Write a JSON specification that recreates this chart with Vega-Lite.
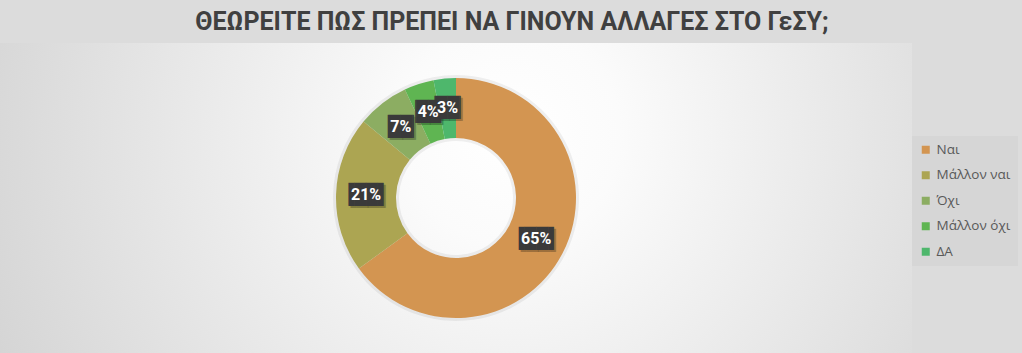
{
  "$schema": "https://vega.github.io/schema/vega-lite/v6.json",
  "width": 912,
  "height": 310,
  "autosize": {"type": "none"},
  "padding": {"top": 43, "left": 0, "right": 110, "bottom": 0},
  "background": "#dcdcdc",
  "config": {"view": {"stroke": null}},
  "title": {
    "text": "ΘΕΩΡΕΙΤΕ ΠΩΣ ΠΡΕΠΕΙ ΝΑ ΓΙΝΟΥΝ ΑΛΛΑΓΕΣ ΣΤΟ ΓεΣΥ;",
    "font": "Roboto",
    "fontSize": 25,
    "fontWeight": "bold",
    "color": "#404040",
    "anchor": "middle",
    "frame": "group",
    "dx": 56,
    "baseline": "alphabetic",
    "offset": -12
  },
  "data": {
    "values": [
      {"k": "Ναι", "v": 65, "i": 1, "lbl": "65%"},
      {"k": "Μάλλον ναι", "v": 21, "i": 2, "lbl": "21%"},
      {"k": "Όχι", "v": 7, "i": 3, "lbl": "7%"},
      {"k": "Μάλλον όχι", "v": 4, "i": 4, "lbl": "4%"},
      {"k": "ΔΑ", "v": 3, "i": 5, "lbl": "3%"}
    ]
  },
  "layer": [
    {
      "mark": {
        "type": "rect",
        "fill": {
          "gradient": "radial",
          "x1": 0.56, "y1": 0.43, "x2": 0.56, "y2": 0.43, "r1": 0, "r2": 0.8,
          "stops": [
            {"offset": 0, "color": "#ffffff"},
            {"offset": 0.15, "color": "#fbfbfb"},
            {"offset": 1, "color": "#c6c6c6"}
          ]
        }
      },
      "encoding": {}
    },
    {
      "encoding": {
        "theta": {"field": "v", "type": "quantitative", "stack": true},
        "order": {"field": "i", "type": "quantitative"}
      },
      "layer": [
        {
          "mark": {"type": "arc", "innerRadius": 57, "outerRadius": 123, "color": "#000000", "opacity": 0.06},
          "encoding": {}
        },
        {
          "mark": {"type": "arc", "innerRadius": 60, "outerRadius": 120},
          "encoding": {
            "color": {
              "field": "k",
              "type": "nominal",
              "sort": ["Ναι", "Μάλλον ναι", "Όχι", "Μάλλον όχι", "ΔΑ"],
              "scale": {
                "domain": ["Ναι", "Μάλλον ναι", "Όχι", "Μάλλον όχι", "ΔΑ"],
                "range": ["#d39551", "#aca552", "#8cad62", "#5fb552", "#4eb76c"]
              },
              "legend": {
                "title": null,
                "orient": "none",
                "legendX": 912,
                "legendY": 93,
                "symbolType": "square",
                "symbolSize": 64,
                "symbolStrokeWidth": 0,
                "labelFont": "Open Sans",
                "labelFontSize": 13.5,
                "labelColor": "#595959",
                "labelOffset": 4,
                "fillColor": "#d6d6d6",
                "padding": 7,
                "rowPadding": 10.5
              }
            }
          }
        },
        {
          "mark": {"type": "text", "radius": 90, "font": "DejaVu Sans Mono", "fontSize": 19.5, "align": "right", "baseline": "middle", "dx": 2, "dy": 2, "color": "#000000", "opacity": 0.25},
          "encoding": {"text": {"condition": {"test": "datum.v >= 10", "value": "▐█"}, "value": "▕█"}}
        },
        {
          "mark": {"type": "text", "radius": 90, "font": "DejaVu Sans Mono", "fontSize": 19.5, "align": "left", "baseline": "middle", "dx": 2, "dy": 2, "color": "#000000", "opacity": 0.25},
          "encoding": {"text": {"condition": {"test": "datum.v >= 10", "value": "█▌"}, "value": "█▏"}}
        },
        {
          "mark": {"type": "text", "radius": 90, "font": "DejaVu Sans Mono", "fontSize": 19.5, "align": "right", "baseline": "middle", "color": "#3a3a3a"},
          "encoding": {"text": {"condition": {"test": "datum.v >= 10", "value": "▐█"}, "value": "▕█"}}
        },
        {
          "mark": {"type": "text", "radius": 90, "font": "DejaVu Sans Mono", "fontSize": 19.5, "align": "left", "baseline": "middle", "color": "#3a3a3a"},
          "encoding": {"text": {"condition": {"test": "datum.v >= 10", "value": "█▌"}, "value": "█▏"}}
        },
        {
          "mark": {"type": "text", "radius": 90, "font": "Roboto", "fontSize": 16, "fontWeight": "bold", "align": "center", "baseline": "middle", "color": "#ffffff"},
          "encoding": {"text": {"field": "lbl", "type": "nominal"}}
        }
      ]
    }
  ]
}
